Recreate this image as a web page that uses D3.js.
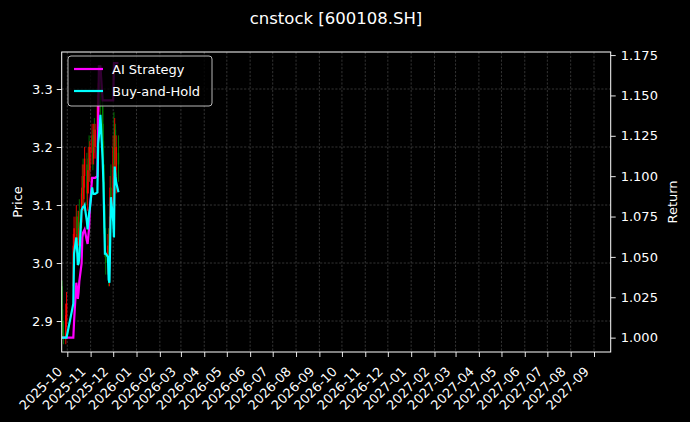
<!DOCTYPE html>
<html>
<head>
<meta charset="utf-8">
<script src="https://cdn.jsdelivr.net/npm/d3@7.9.0/dist/d3.min.js"></script>
<style>
  html, body { margin: 0; padding: 0; background: #000; }
  svg { display: block; font-family: "DejaVu Sans", sans-serif; }
</style>
</head>
<body>
<svg id="chart" width="690" height="422"></svg>
<script>
// trading days (A-share calendar, National Day gap included)
const dates = [
  '2025-09-24','2025-09-25','2025-09-26','2025-09-29','2025-09-30',
  '2025-10-09','2025-10-10','2025-10-13','2025-10-14','2025-10-15','2025-10-16','2025-10-17',
  '2025-10-20','2025-10-21','2025-10-22','2025-10-23','2025-10-24',
  '2025-10-27','2025-10-28','2025-10-29','2025-10-30','2025-10-31',
  '2025-11-03','2025-11-04','2025-11-05','2025-11-06','2025-11-07',
  '2025-11-10','2025-11-11','2025-11-12','2025-11-13','2025-11-14',
  '2025-11-17','2025-11-18','2025-11-19','2025-11-20','2025-11-21',
  '2025-11-24','2025-11-25','2025-11-26','2025-11-27','2025-11-28',
  '2025-12-01','2025-12-02','2025-12-03','2025-12-04','2025-12-05','2025-12-08'
];

const openP = [
  2.96, 2.90, 2.88, 2.87, 2.90,
  2.96, 3.02, 3.04, 3.08, 3.05, 3.04, 3.07,
  3.07, 3.12, 3.15, 3.11, 3.15,
  3.17, 3.12, 3.14, 3.18, 3.16,
  3.19, 3.22, 3.18, 3.22, 3.20,
  3.23, 3.27, 3.29, 3.31, 3.30,
  3.27, 3.21, 3.14, 3.06, 3.02,
  3.00, 3.03, 2.97, 3.06, 3.13,
  3.10, 3.20, 3.17, 3.23, 3.16, 3.19
];
const highP = [
  2.97, 2.92, 2.90, 2.93, 2.95,
  3.05, 3.08, 3.10, 3.09, 3.08, 3.09, 3.11,
  3.13, 3.17, 3.18, 3.17, 3.20,
  3.19, 3.16, 3.20, 3.22, 3.21,
  3.24, 3.23, 3.24, 3.25, 3.24,
  3.29, 3.31, 3.33, 3.34, 3.33,
  3.29, 3.24, 3.17, 3.10, 3.06,
  3.05, 3.06, 3.08, 3.15, 3.17,
  3.22, 3.26, 3.25, 3.24, 3.22, 3.22
];
const lowP = [
  2.89, 2.87, 2.86, 2.86, 2.89,
  2.95, 3.00, 3.03, 3.03, 3.02, 3.03, 3.04,
  3.06, 3.10, 3.10, 3.09, 3.13,
  3.10, 3.09, 3.12, 3.14, 3.14,
  3.17, 3.16, 3.17, 3.19, 3.18,
  3.21, 3.24, 3.26, 3.27, 3.25,
  3.20, 3.12, 3.05, 3.01, 2.98,
  2.98, 2.96, 2.96, 3.05, 3.09,
  3.09, 3.15, 3.16, 3.14, 3.12, 3.14
];
const closeP = [
  2.90, 2.88, 2.87, 2.91, 2.93,
  3.03, 3.06, 3.08, 3.05, 3.04, 3.07, 3.06,
  3.12, 3.15, 3.11, 3.15, 3.18,
  3.12, 3.14, 3.18, 3.16, 3.20,
  3.22, 3.18, 3.22, 3.20, 3.23,
  3.27, 3.29, 3.31, 3.30, 3.27,
  3.21, 3.14, 3.06, 3.02, 3.00,
  3.03, 2.97, 3.06, 3.13, 3.10,
  3.20, 3.17, 3.23, 3.16, 3.20, 3.17
];

const aiReturn = [
  1.000, 1.000, 1.000, 1.000, 1.000,
  1.000, 1.010, 1.034, 1.030, 1.024, 1.028, 1.035,
  1.046, 1.062, 1.065, 1.066, 1.067,
  1.060, 1.058, 1.063, 1.068, 1.080,
  1.099, 1.099, 1.099, 1.099, 1.099,
  1.100, 1.135, 1.168, 1.168, 1.168,
  1.147, 1.147, 1.147, 1.147, 1.147,
  1.147, 1.147, 1.147, 1.147, 1.147,
  1.147, 1.170, 1.170, 1.170, 1.170, 1.170
];
const bhReturn = [
  1.000, 1.000, 1.000, 1.000, 1.000,
  1.021, 1.052, 1.062, 1.055, 1.045, 1.046, 1.050,
  1.079, 1.080, 1.081, 1.081, 1.082,
  1.072, 1.067, 1.072, 1.077, 1.080,
  1.093, 1.090, 1.089, 1.089, 1.089,
  1.090, 1.120, 1.125, 1.130, 1.138,
  1.110, 1.096, 1.075, 1.052, 1.052,
  1.050, 1.036, 1.034, 1.060, 1.087,
  1.072, 1.062, 1.106, 1.100, 1.096, 1.090
];

const priceTicks = [2.9, 3.0, 3.1, 3.2, 3.3];
const returnTicks = [1.000, 1.025, 1.050, 1.075, 1.100, 1.125, 1.150, 1.175];

const parse = d3.timeParse('%Y-%m-%d');
const days = dates.map(parse);

const svg = d3.select('#chart');
const W = 690, H = 422;
const m = { left: 61.7, right: 610.7, top: 52, bottom: 352 };

svg.append('rect').attr('width', W).attr('height', H).attr('fill', '#000');

const x = d3.scaleTime()
  .domain([new Date(2025, 8, 23, 13, 26), new Date(2027, 8, 23, 4, 34)])
  .range([m.left, m.right]);
const yP = d3.scaleLinear().domain([2.8466, 3.3638]).range([m.bottom, m.top]);
const yR = d3.scaleLinear().domain([0.9911, 1.1769]).range([m.bottom, m.top]);

const monthTicks = d3.timeMonth.range(new Date(2025, 9, 1), new Date(2027, 9, 1));

// grid
const grid = svg.append('g').attr('stroke', '#555').attr('stroke-width', 0.6)
  .attr('stroke-dasharray', '2.2,1.6');
monthTicks.forEach(t => {
  grid.append('line').attr('x1', x(t)).attr('x2', x(t))
    .attr('y1', m.top).attr('y2', m.bottom);
});
priceTicks.forEach(t => {
  grid.append('line').attr('x1', m.left).attr('x2', m.right)
    .attr('y1', yP(t)).attr('y2', yP(t));
});

// candles
const candles = svg.append('g');
days.forEach((d, i) => {
  const up = closeP[i] >= openP[i];
  const col = up ? '#ff0000' : '#008000';
  candles.append('line')
    .attr('x1', x(d)).attr('x2', x(d))
    .attr('y1', yP(highP[i])).attr('y2', yP(lowP[i]))
    .attr('stroke', col).attr('stroke-width', 0.9);
  const top = yP(Math.max(openP[i], closeP[i]));
  const bot = yP(Math.min(openP[i], closeP[i]));
  candles.append('rect')
    .attr('x', x(d) - 0.7).attr('width', 1.4)
    .attr('y', top).attr('height', Math.max(0.8, bot - top))
    .attr('fill', col);
});

// return lines
const line = (arr) => d3.line().x((d, i) => x(days[i])).y(v => yR(v))(arr);
svg.append('path').attr('d', line(aiReturn))
  .attr('fill', 'none').attr('stroke', '#ff00ff').attr('stroke-width', 2.2)
  .attr('stroke-linejoin', 'miter');
svg.append('path').attr('d', line(bhReturn))
  .attr('fill', 'none').attr('stroke', '#00ffff').attr('stroke-width', 2.2)
  .attr('stroke-linejoin', 'miter');

// axes
const styleAxis = g => {
  g.select('.domain').remove();
  g.selectAll('line').attr('stroke', '#fff').attr('stroke-width', 0.9);
  g.selectAll('text').attr('fill', '#fff').attr('font-size', 13)
    .attr('font-family', '"DejaVu Sans", sans-serif');
};

svg.append('g').attr('transform', `translate(${m.left},0)`)
  .call(d3.axisLeft(yP).tickValues(priceTicks).tickFormat(d3.format('.1f'))
    .tickSize(5).tickPadding(4))
  .call(styleAxis);

svg.append('g').attr('transform', `translate(${m.right},0)`)
  .call(d3.axisRight(yR).tickValues(returnTicks).tickFormat(d3.format('.3f'))
    .tickSize(5).tickPadding(5))
  .call(styleAxis);

const xg = svg.append('g').attr('transform', `translate(0,${m.bottom})`)
  .call(d3.axisBottom(x).tickValues(monthTicks).tickFormat(d3.timeFormat('%Y-%m'))
    .tickSize(5))
  .call(styleAxis);
// rotated labels: baseline end sits just left of the tick
xg.selectAll('text')
  .attr('text-anchor', 'end')
  .attr('dy', 0).attr('y', 0).attr('x', 0)
  .attr('transform', 'translate(-4.6,20.3) rotate(-45)');

// frame
svg.append('rect').attr('x', m.left).attr('y', m.top)
  .attr('width', m.right - m.left).attr('height', m.bottom - m.top)
  .attr('fill', 'none').attr('stroke', '#fff').attr('stroke-width', 1);

// labels
svg.append('text').attr('x', 336).attr('y', 24).attr('text-anchor', 'middle')
  .attr('fill', '#fff').attr('font-size', 16.5).text('cnstock [600108.SH]');
svg.append('text').attr('transform', `translate(22,${(m.top + m.bottom) / 2}) rotate(-90)`)
  .attr('text-anchor', 'middle').attr('fill', '#fff').attr('font-size', 13).text('Price');
svg.append('text').attr('transform', `translate(677,${(m.top + m.bottom) / 2}) rotate(-90)`)
  .attr('text-anchor', 'middle').attr('fill', '#fff').attr('font-size', 13).text('Return');

// legend
const lg = svg.append('g').attr('transform', 'translate(68,56)');
lg.append('rect').attr('width', 144).attr('height', 50).attr('rx', 3)
  .attr('fill', 'rgba(0,0,0,0.8)').attr('stroke', '#ccc').attr('stroke-width', 0.9);
const entries = [['AI Strategy', '#ff00ff'], ['Buy-and-Hold', '#00ffff']];
entries.forEach(([name, col], i) => {
  const yy = 13 + i * 22;
  lg.append('line').attr('x1', 6).attr('x2', 35).attr('y1', yy).attr('y2', yy)
    .attr('stroke', col).attr('stroke-width', 2.2);
  lg.append('text').attr('x', 44).attr('y', yy).attr('dy', '0.35em')
    .attr('fill', '#fff').attr('font-size', 13).text(name);
});
</script>
</body>
</html>
